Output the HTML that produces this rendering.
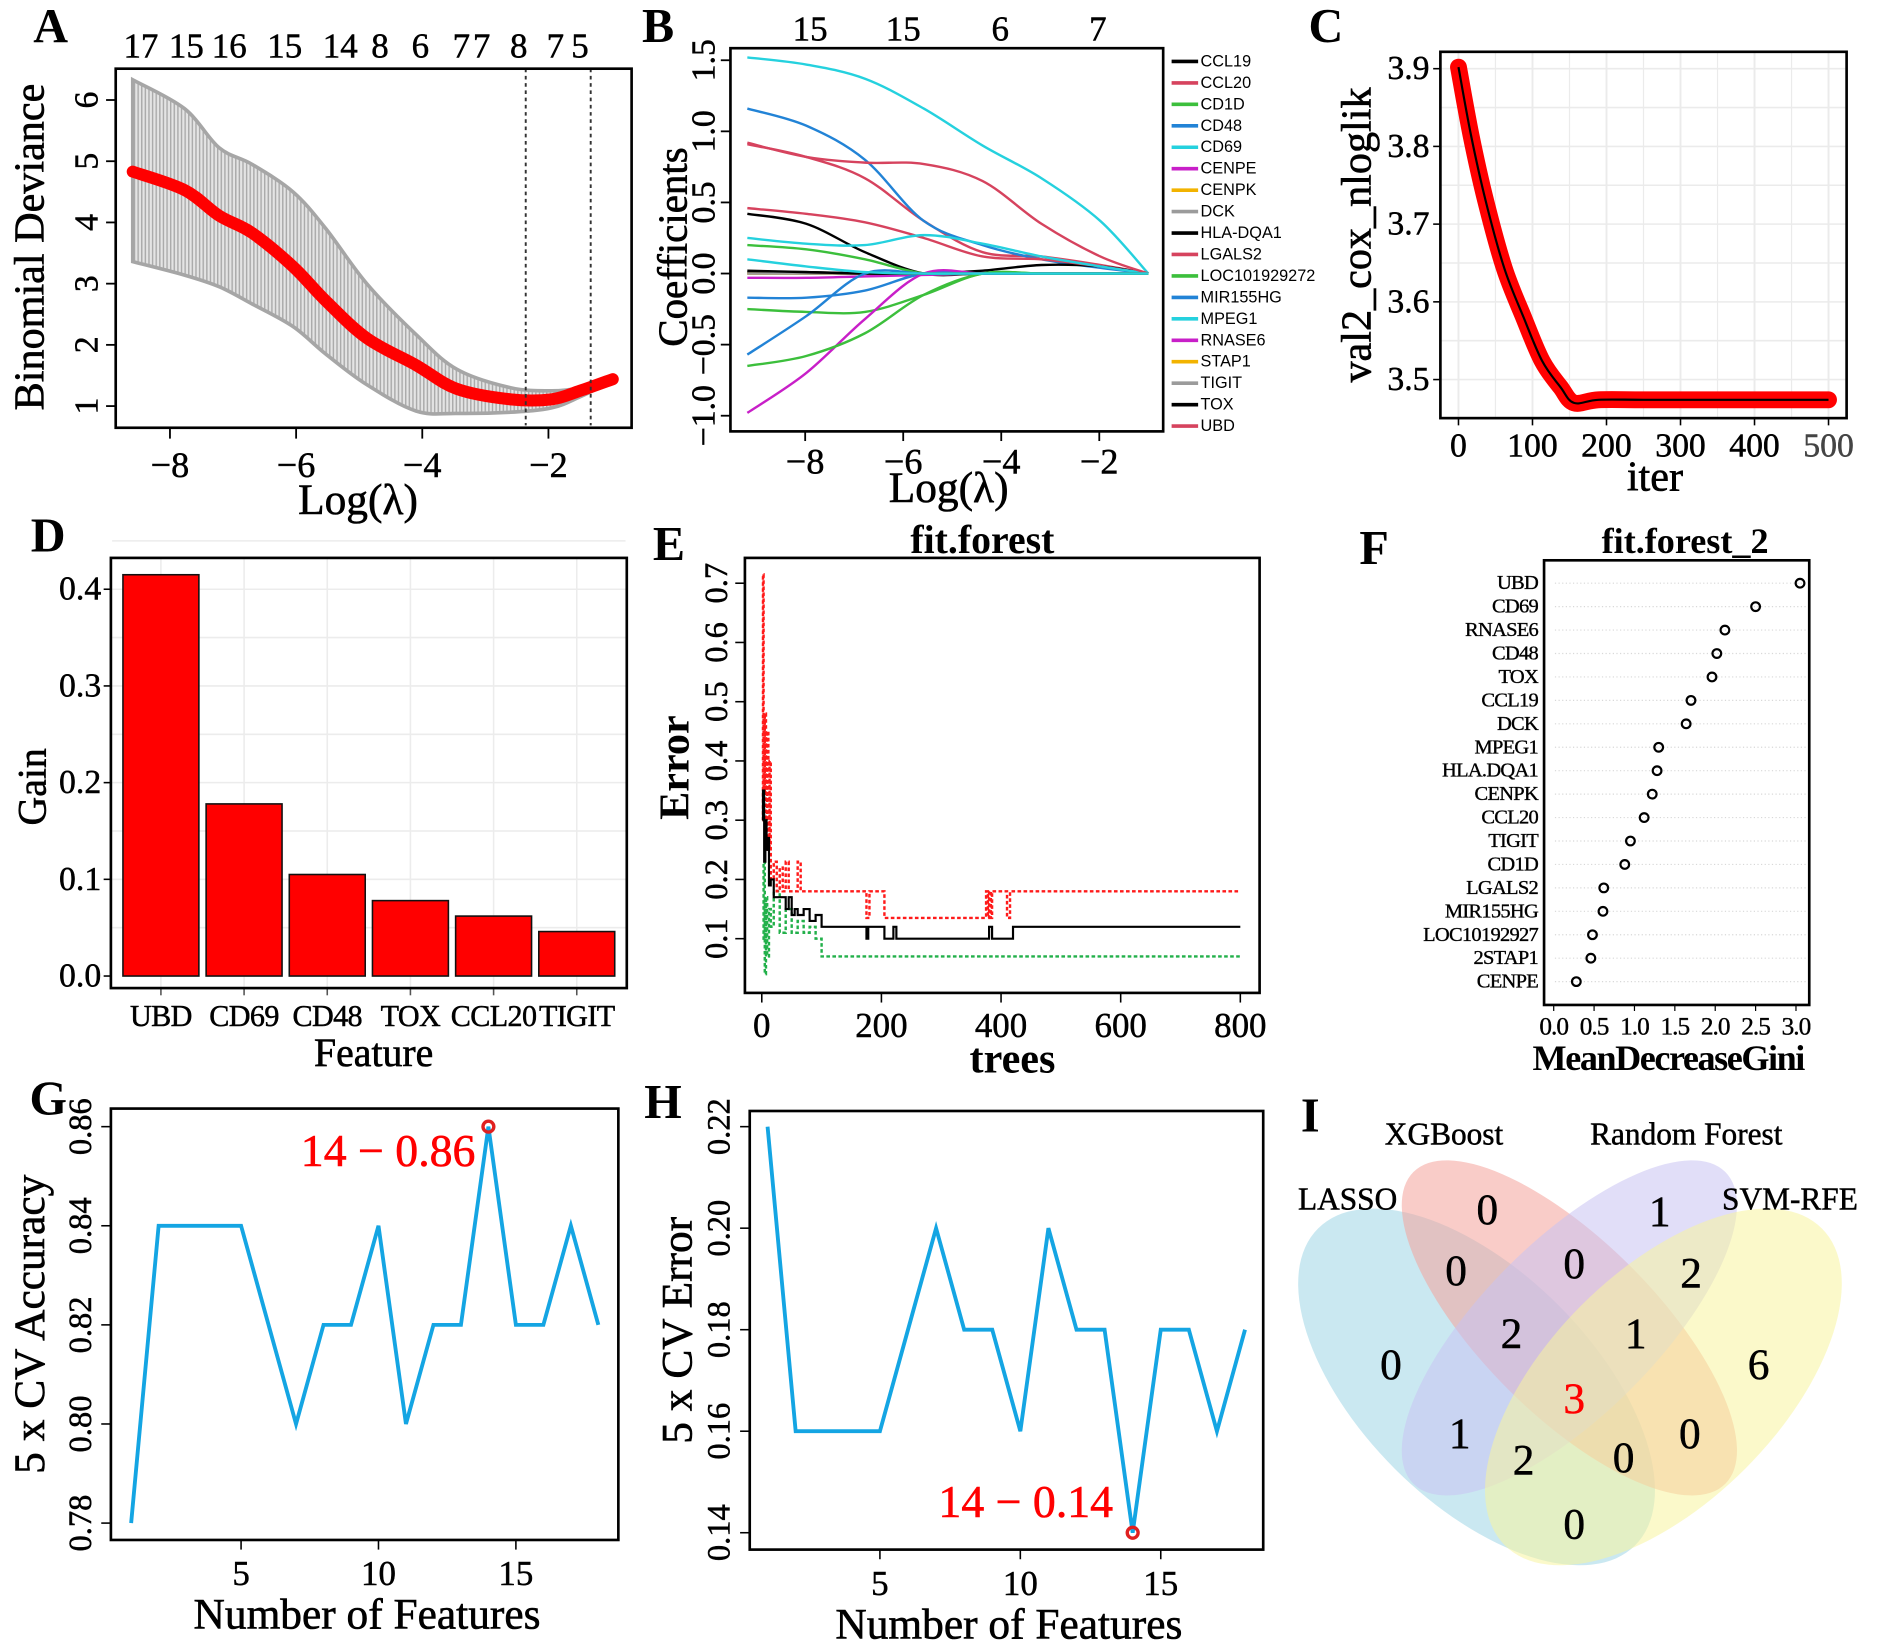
<!DOCTYPE html>
<html><head><meta charset="utf-8"><style>
html,body{margin:0;padding:0;background:#fff}
svg{display:block}
text{font-family:"Liberation Serif","DejaVu Serif",serif}
text.sans{font-family:"Liberation Sans","DejaVu Sans",sans-serif}
</style></head><body>
<svg id="fig" xmlns="http://www.w3.org/2000/svg" width="1890" height="1646" viewBox="0 0 1568 1366" preserveAspectRatio="none">
<defs>
<pattern id="vstripe" width="3" height="10" patternUnits="userSpaceOnUse"><rect width="3" height="10" fill="#e4e4e4"/><rect width="1.2" height="10" fill="#ababab"/></pattern>
</defs>
</svg>
<script>
// ---------- data ----------
const lamA=[-8.59,-7.77,-7.22,-6.7,-6.05,-5.53,-4.88,-4.1,-3.45,-2.6,-1.95,-1.5,-0.98];
const devA=[4.83,4.53,4.11,3.83,3.28,2.72,2.11,1.67,1.28,1.11,1.11,1.25,1.44];
const upA=[6.33,5.86,5.22,4.95,4.5,3.9,3.0,2.17,1.6,1.3,1.25,1.3,1.47];
const loA=[3.36,3.14,2.95,2.67,2.3,1.85,1.35,0.92,0.88,0.9,0.97,1.15,1.41];
const vlineA=[-2.36,-1.33];
const topA=["17","15","16","15","14","8","6","7","7","8","7","5"];
const topALam=[-8.46,-7.74,-7.06,-6.18,-5.30,-4.67,-4.03,-3.38,-3.06,-2.47,-1.89,-1.50];

const lamB=[-9.18,-7.98,-6.78,-5.58,-4.38,-3.18,-1.98,-1.0];
const genesB=["CCL19","CCL20","CD1D","CD48","CD69","CENPE","CENPK","DCK","HLA-DQA1","LGALS2","LOC101929272","MIR155HG","MPEG1","RNASE6","STAP1","TIGIT","TOX","UBD"];
const colorsB=["#000000","#d6435e","#3cbf3c","#2283d6","#25d1de","#c81fc8","#f2b300","#9b9b9b","#000000","#d6435e","#3cbf3c","#2283d6","#25d1de","#c81fc8","#f2b300","#9b9b9b","#000000","#d6435e"];
const coefB=[
[0.42,0.35,0.15,0,0,0,0,0],
[0.91,0.82,0.67,0.37,0.15,0.12,0.06,0],
[0.20,0.17,0.10,0,0,0,0,0],
[1.16,1.04,0.80,0.37,0.20,0.10,0.04,0],
[1.52,1.47,1.37,1.16,0.90,0.67,0.37,0],
[-0.03,-0.03,-0.02,-0.01,0,0,0,0],
[0,0,0,0,0,0,0,0],
[0,0,0,0,0,0,0,0],
[0.01,0.01,0,0,0.02,0.06,0.05,0],
[0.46,0.42,0.36,0.25,0.12,0.10,0.05,0],
[-0.25,-0.27,-0.27,-0.15,0,0,0,0],
[-0.17,-0.17,-0.12,0,0,0,0,0],
[0.25,0.21,0.20,0.27,0.21,0.12,0.05,0],
[-0.98,-0.70,-0.32,0,0,0,0,0],
[0,0,0,0,0,0,0,0],
[0,0,0,0,0,0,0,0],
[0.02,0.01,0,0,0,0,0,0],
[0.92,0.82,0.78,0.77,0.65,0.35,0.12,0]];
const coefB2=[[-0.57,-0.30,0,0,0,0,0,0],[-0.65,-0.58,-0.42,-0.15,0,0,0,0],[0.10,0.05,0.01,0,0,0,0,0]];
const colorsB2=["#2283d6","#3cbf3c","#25d1de"];
const topB=["15","15","6","7"];
const topBLam=[-7.9,-6.0,-4.02,-2.03];

const iterC=[0,17,37,62,88,113,138,156,189,250,350,450,500];
const valC=[3.902,3.814,3.729,3.643,3.58,3.524,3.49,3.47,3.474,3.474,3.474,3.474,3.474];

const featD=["UBD","CD69","CD48","TOX","CCL20","TIGIT"];
const gainD=[0.415,0.178,0.105,0.078,0.062,0.046];

const treesRed=[1,2,3,5,7,9,11,13,15,20,25,30,35,40,45,60,65,175,180,205,210,375,378,380,383,385,410,415,420,800];
const errRed=[0.3,0.715,0.35,0.48,0.3,0.45,0.25,0.4,0.2,0.23,0.18,0.22,0.18,0.23,0.18,0.23,0.18,0.135,0.18,0.135,0.135,0.18,0.135,0.18,0.135,0.18,0.135,0.18,0.18,0.18];
const treesBlack=[1,2,4,6,8,10,12,15,20,30,40,45,50,55,60,70,80,90,100,175,178,205,210,220,225,375,380,385,415,420,800];
const errBlack=[0.3,0.35,0.23,0.3,0.25,0.27,0.19,0.2,0.17,0.17,0.15,0.17,0.14,0.15,0.14,0.15,0.13,0.14,0.12,0.1,0.12,0.1,0.1,0.12,0.1,0.1,0.12,0.1,0.1,0.12,0.12];
const treesGreen=[1,3,5,7,9,12,15,20,30,40,50,60,70,80,90,100,800];
const errGreen=[0.1,0.23,0.04,0.17,0.07,0.15,0.12,0.18,0.11,0.15,0.11,0.13,0.11,0.12,0.1,0.07,0.07];

const featF=["UBD","CD69","RNASE6","CD48","TOX","CCL19","DCK","MPEG1","HLA.DQA1","CENPK","CCL20","TIGIT","CD1D","LGALS2","MIR155HG","LOC10192927","2STAP1","CENPE"];
const giniF=[3.05,2.5,2.12,2.02,1.96,1.7,1.64,1.3,1.28,1.22,1.12,0.95,0.88,0.62,0.61,0.48,0.46,0.28];

const nFeat=[1,2,3,4,5,6,7,8,9,10,11,12,13,14,15,16,17,18];
const accG=[0.78,0.84,0.84,0.84,0.84,0.82,0.80,0.82,0.82,0.84,0.80,0.82,0.82,0.86,0.82,0.82,0.84,0.82];
const errH=[0.22,0.16,0.16,0.16,0.16,0.18,0.20,0.18,0.18,0.16,0.20,0.18,0.18,0.14,0.18,0.18,0.16,0.18];

const vennSets=["LASSO","XGBoost","Random Forest","SVM-RFE"];
const vennCounts=["0","1","0","0","2","2","1","0","6","3","1","0","2","0","0"];

// ---------- helpers ----------
const NS="http://www.w3.org/2000/svg";
const svg=document.getElementById('fig');
function mk(tag,attrs,parent){const e=document.createElementNS(NS,tag);for(const k in attrs)e.setAttribute(k,attrs[k]);(parent||svg).appendChild(e);return e;}
function lin(d0,d1,r0,r1){return v=>r0+(v-d0)*(r1-r0)/(d1-d0);}
function txt(x,y,s,size,opt){opt=opt||{};const a={x:x,y:y,'font-size':size,'text-anchor':opt.anchor||'middle','dominant-baseline':'central',fill:opt.fill||'#000'};if(opt.weight)a['font-weight']=opt.weight;if(opt.rot!==undefined)a.transform='rotate('+opt.rot+' '+x+' '+y+')';if(opt.cls)a['class']=opt.cls;if(opt.ls)a['letter-spacing']=opt.ls;if(opt.sw){a.stroke=opt.fill||'#000';a['stroke-width']=opt.sw;}const t=mk('text',a,opt.parent);t.textContent=s;return t;}
function line(x1,y1,x2,y2,st,w,parent,dash){const a={x1:x1,y1:y1,x2:x2,y2:y2,stroke:st,'stroke-width':w};if(dash)a['stroke-dasharray']=dash;return mk('line',a,parent);}
function box(x0,y0,x1,y1,parent){return mk('rect',{x:x0,y:y0,width:x1-x0,height:y1-y0,fill:'none',stroke:'#000','stroke-width':2.2},parent);}
function smooth(pts){let d='M'+pts[0][0]+','+pts[0][1];for(let i=0;i<pts.length-1;i++){const p0=pts[i-1]||pts[i],p1=pts[i],p2=pts[i+1],p3=pts[i+2]||p2;const c1=[p1[0]+(p2[0]-p0[0])/6,p1[1]+(p2[1]-p0[1])/6],c2=[p2[0]-(p3[0]-p1[0])/6,p2[1]-(p3[1]-p1[1])/6];d+=' C'+c1[0]+','+c1[1]+' '+c2[0]+','+c2[1]+' '+p2[0]+','+p2[1];}return d;}
function smoothRaw(pts){return smooth(pts).slice(1);}
let e;

// panel letters
const letters=[["A",42,22],["B",546,22],["C",1100,22],["D",40,445],["E",555,452],["F",1140,455],["G",40,912],["H",550,915],["I",1087,926]];
letters.forEach(l=>{e=txt(l[1],l[2],l[0],40,{weight:'bold'});

});

// ---------- Panel A ----------
const gA=mk('g',{});


const xA=lin(-8,-2,141,455), yA=lin(1,6,337,83);
const upPts=lamA.map((l,i)=>[xA(l),yA(upA[i])]);
const loPts=lamA.map((l,i)=>[xA(l),yA(loA[i])]).reverse();
e=mk('path',{d:smooth(upPts)+' L'+smoothRaw(loPts).replace(/^M/,'')+' Z',fill:'url(#vstripe)',stroke:'#a6a6a6','stroke-width':3},gA);


e=mk('path',{d:smooth(lamA.map((l,i)=>[xA(l),yA(devA[i])])),fill:'none',stroke:'#ff0000','stroke-width':10,'stroke-linecap':'round','stroke-linejoin':'round'},gA);


vlineA.forEach(v=>{e=line(xA(v),57,xA(v),353,'#333',1.6,gA,'3,3');

});
e=box(96,57,524,355,gA);


[-8,-6,-4,-2].forEach(v=>{line(xA(v),355,xA(v),364,'#000',1.5,gA);e=txt(xA(v),386,'\u2212'+(-v),30,{parent:gA,sw:0.4});

});
[1,2,3,4,5,6].forEach(v=>{line(88,yA(v),96,yA(v),'#000',1.5,gA);e=txt(72,yA(v),String(v),28,{rot:-90,parent:gA,sw:0.4});

});
topA.forEach((s,i)=>{e=txt(xA(topALam[i]),38,s,29,{parent:gA,sw:0.4});

});
e=txt(297,415,'Log(\u03bb)',36,{parent:gA,sw:0.5});


e=txt(25,205,'Binomial Deviance',35,{rot:-90,parent:gA,sw:0.5});



// ---------- Panel B ----------
const gB=mk('g',{});


const xB=lin(-8,-2,668,912), yB=lin(-1,1.5,345,50);
function drawPath(vals,col,name){e=mk('path',{d:smooth(lamB.map((l,i)=>[xB(l),yB(vals[i])])),fill:'none',stroke:col,'stroke-width':2,'stroke-linejoin':'round'},gB);

}
coefB.forEach((v,i)=>drawPath(v,colorsB[i],'coef-path-'+genesB[i].toLowerCase()));
coefB2.forEach((v,i)=>drawPath(v,colorsB2[i],'coef-path-extra'));
e=box(606,40,965,358,gB);


[-8,-6,-4,-2].forEach(v=>{line(xB(v),358,xB(v),366,'#000',1.5,gB);e=txt(xB(v),383,'\u2212'+(-v),30,{parent:gB,sw:0.4});

});
[-1,-0.5,0,0.5,1,1.5].forEach(v=>{line(598,yB(v),606,yB(v),'#000',1.5,gB);e=txt(584,yB(v),(v<0?'\u2212':'')+Math.abs(v).toFixed(1),28,{rot:-90,parent:gB,sw:0.4});

});
topB.forEach((s,i)=>{e=txt(xB(topBLam[i]),24,s,29,{parent:gB,sw:0.4});

});
genesB.forEach((g,i)=>{const y=51+i*17.8;line(972,y,994,y,colorsB[i],3,gB);e=txt(996,y,g,13.5,{anchor:'start',cls:'sans',parent:gB});

});
e=txt(787,405,'Log(\u03bb)',36,{parent:gB,sw:0.5});


e=txt(558,205,'Coefficients',34,{rot:-90,parent:gB,sw:0.5});



// ---------- Panel C ----------
const gC=mk('g',{});


const xC=lin(0,500,1210,1517), yC=lin(3.5,3.9,315,57);
for(let v=0;v<=500;v+=50){line(xC(v),44,xC(v),346,'#ebebeb',v%100?1:1.6,gC);}
for(let v=3.45;v<=3.95;v+=0.05){const yy=yC(v);if(yy>44&&yy<346)line(1196,yy,1531,yy,'#ebebeb',1.3,gC);}
const cPts=iterC.map((t,i)=>[xC(t),yC(valC[i])]);
e=mk('path',{d:smooth(cPts),fill:'none',stroke:'#ff0000','stroke-width':14,'stroke-linecap':'round','stroke-linejoin':'round'},gC);


e=mk('path',{d:smooth(cPts),fill:'none',stroke:'#000','stroke-width':1.8},gC);


e=box(1195,43,1532,347,gC);


[0,100,200,300,400,500].forEach(v=>{line(xC(v),347,xC(v),353,'#000',1.3,gC);e=txt(xC(v),370,String(v),28,{parent:gC,fill:v==500?'#444':'#000',sw:0.4});

});
[3.5,3.6,3.7,3.8,3.9].forEach(v=>{line(1189,yC(v),1195,yC(v),'#000',1.3,gC);e=txt(1186,yC(v),v.toFixed(1),28,{anchor:'end',parent:gC,sw:0.4});

});
e=txt(1373,396,'iter',35,{parent:gC,sw:0.5});


e=txt(1126,195,'val2_cox_nloglik',35,{rot:-90,parent:gC,sw:0.5});



// ---------- Panel D ----------
const gD=mk('g',{});


const yD=lin(0,0.4,810,489);
const bandD=i=>102+i*69;
for(let v=0.05;v<0.45;v+=0.05){line(93,yD(v),519,yD(v),'#ececec',1.3,gD);}
featD.forEach((f,i)=>line(bandD(i)+31.5,464,bandD(i)+31.5,819,'#ececec',1.3,gD));
featD.forEach((f,i)=>{e=mk('rect',{x:bandD(i),y:yD(gainD[i]),width:63,height:yD(0)-yD(gainD[i]),fill:'#ff0000',stroke:'#111','stroke-width':1.3},gD);


line(bandD(i)+31.5,820,bandD(i)+31.5,826,'#555',1.3,gD);
e=txt(bandD(i)+31.5,843,f,25,{parent:gD,ls:'-0.5',sw:0.4});

});
e=box(92,463,520,820,gD);


[0,0.1,0.2,0.3,0.4].forEach(v=>{line(86,yD(v),92,yD(v),'#000',1.3,gD);e=txt(84,yD(v),v.toFixed(1),28,{anchor:'end',parent:gD,sw:0.4});

});
e=txt(310,874,'Feature',33,{parent:gD,sw:0.5});


e=txt(27,653,'Gain',33,{rot:-90,parent:gD,sw:0.5});



// ---------- Panel E ----------
const gE=mk('g',{});


const xE=lin(0,800,632,1029), yE=lin(0.1,0.7,779,484);
function step(tr,vals){let p=[];tr.forEach((t,i)=>{if(i>0)p.push(xE(t)+','+yE(vals[i-1]));p.push(xE(t)+','+yE(vals[i]));});return p.join(' ');}
e=mk('polyline',{points:step(treesGreen,errGreen),fill:'none',stroke:'#22b04a','stroke-width':2,'stroke-dasharray':'3,2'},gE);


e=mk('polyline',{points:step(treesRed,errRed),fill:'none',stroke:'#ff1a1a','stroke-width':2,'stroke-dasharray':'3,2'},gE);


e=mk('polyline',{points:step(treesBlack,errBlack),fill:'none',stroke:'#000','stroke-width':1.8},gE);


e=box(618,463,1045,824,gE);


[0,200,400,600,800].forEach(v=>{line(xE(v),824,xE(v),832,'#000',1.3,gE);e=txt(xE(v),851,String(v),29,{parent:gE,sw:0.4});

});
[0.1,0.2,0.3,0.4,0.5,0.6,0.7].forEach(v=>{line(610,yE(v),618,yE(v),'#000',1.3,gE);e=txt(595,yE(v),v.toFixed(1),27,{rot:-90,parent:gE,sw:0.4});

});
e=txt(815,448,'fit.forest',33,{weight:'bold',parent:gE});


e=txt(840,879,'trees',35,{weight:'bold',parent:gE});


e=txt(560,637,'Error',35,{rot:-90,weight:'bold',parent:gE});



// ---------- Panel F ----------
const gF=mk('g',{});


const xF=lin(0,3,1289,1490), yF=i=>484+i*19.45;
featF.forEach((f,i)=>{line(1290,yF(i),1498,yF(i),'#d8d8d8',1,gF,'1,2');
e=mk('circle',{cx:xF(giniF[i]),cy:yF(i),r:3.6,fill:'none',stroke:'#000','stroke-width':1.8},gF);


e=txt(1276,yF(i),f,17,{anchor:'end',ls:'-0.6',parent:gF,sw:0.3});

});
e=box(1281,465,1501,834,gF);


[0,0.5,1,1.5,2,2.5,3].forEach(v=>{line(xF(v),834,xF(v),839,'#000',1,gF);e=txt(xF(v),852,v.toFixed(1),21,{parent:gF,ls:'-0.8',sw:0.3});

});
e=txt(1398,449,'fit.forest_2',30,{weight:'bold',parent:gF});


e=txt(1384,878,'MeanDecreaseGini',30,{weight:'bold',ls:'-1.2',parent:gF});



// ---------- Panels G & H ----------
function cvPanel(name,x0,x1,yTop,yBot,xs,yfn,vals,ticks,label,ytitle,ytx,hiIdx,annX,annY){
const g=mk('g',{});


e=mk('polyline',{points:nFeat.map((n,i)=>xs(n)+','+yfn(vals[i])).join(' '),fill:'none',stroke:'#14a5e3','stroke-width':3.2,'stroke-linejoin':'miter'},g);


e=mk('circle',{cx:xs(nFeat[hiIdx]),cy:yfn(vals[hiIdx]),r:4.5,fill:'none',stroke:'#e02020','stroke-width':2.8},g);


e=txt(annX,annY,label,38,{fill:'#ff0000',parent:g,sw:0.5});


e=box(x0,yTop,x1,yBot,g);


[5,10,15].forEach(v=>{line(xs(v),yBot,xs(v),yBot+8,'#000',1.3,g);e=txt(xs(v),yBot+28,String(v),29,{parent:g,sw:0.4});

});
ticks.forEach(v=>{line(x0-8,yfn(v),x0,yfn(v),'#000',1.3,g);e=txt(x0-25,yfn(v),v.toFixed(2),27,{rot:-90,parent:g,sw:0.4});

});
e=txt((x0+x1)/2+2,yBot+62,'Number of Features',36,{parent:g,sw:0.5});


e=txt(ytx,(yTop+yBot)/2,ytitle,36,{rot:-90,parent:g,sw:0.5});


}
cvPanel('panel-g-cv-accuracy',92,513,920,1278,lin(5,15,200,428),lin(0.78,0.86,1264,935),accG,[0.78,0.80,0.82,0.84,0.86],'14 \u2212 0.86','5 x CV Accuracy',25,13,322,955);
cvPanel('panel-h-cv-error',622,1048,922,1286,lin(5,15,730,963),lin(0.14,0.22,1272,935),errH,[0.14,0.16,0.18,0.20,0.22],'14 \u2212 0.14','5 x CV Error',562,13,851,1246);

// ---------- Panel I (Venn) ----------
const gI=mk('g',{});


const ell=[[1225,1151,186,96,45,'#9fd6e6'],[1302,1102,183,72,45,'#f4a39b'],[1302,1102,183,72,-45,'#c9c2f2'],[1380,1151,186,96,-45,'#f8f49e']];
ell.forEach((p,i)=>{e=mk('ellipse',{cx:p[0],cy:p[1],rx:p[2],ry:p[3],fill:p[5],'fill-opacity':0.55,transform:'rotate('+p[4]+' '+p[0]+' '+p[1]+')'},gI);

});
const vennPos=[[1234,1004],[1377,1006],[1208,1055],[1306,1049],[1403,1057],[1254,1107],[1357,1107],[1154,1133],[1459,1133],[1306,1161],[1211,1190],[1402,1190],[1264,1212],[1347,1210],[1306,1265]];
vennCounts.forEach((c,i)=>{e=txt(vennPos[i][0],vennPos[i][1],c,36,{fill:i==9?'#ff0000':'#000',parent:gI,sw:0.4});

});
const vennLab=[[1118,995],[1198,941],[1399,941],[1485,995]];
vennSets.forEach((s,i)=>{e=txt(vennLab[i][0],vennLab[i][1],s,26,{parent:gI,sw:0.4});

});
</script>
</body></html>
